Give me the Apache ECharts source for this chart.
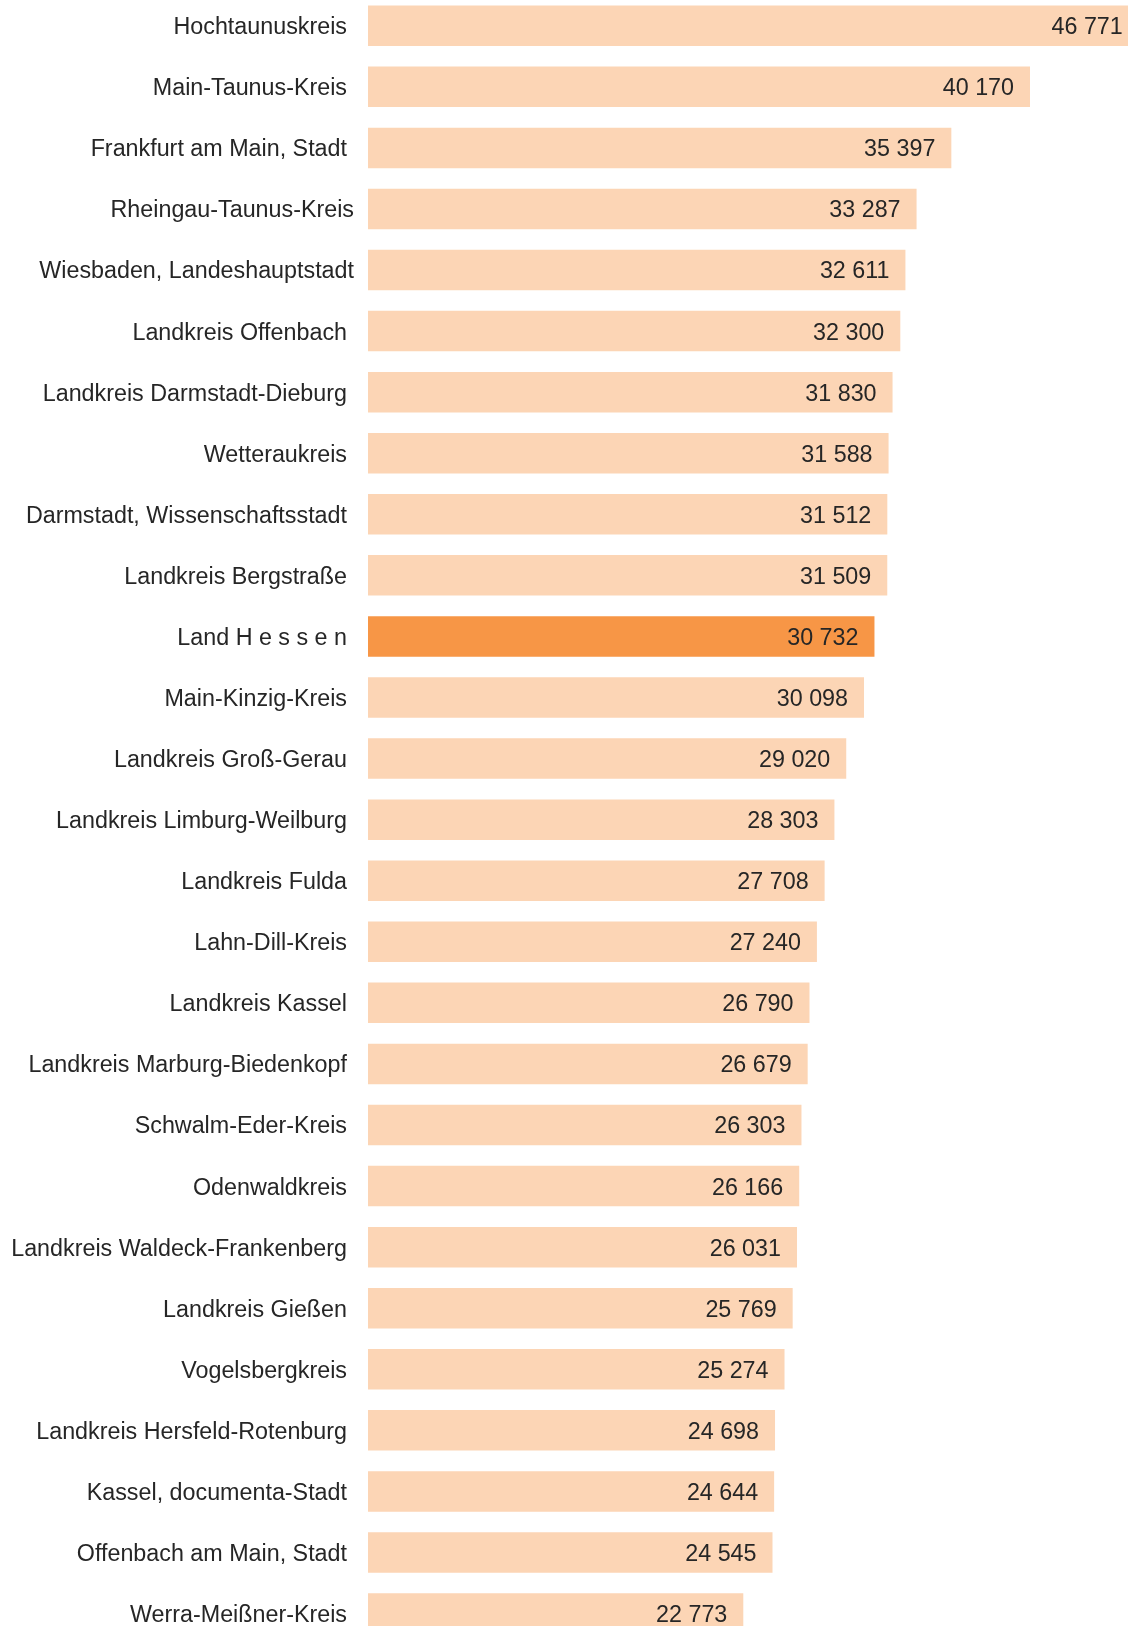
<!DOCTYPE html>
<html>
<head>
<meta charset="utf-8">
<script src="https://cdn.jsdelivr.net/npm/echarts@6/dist/echarts.min.js"></script>
<style>html,body{margin:0;padding:0;background:#fff;overflow:hidden;width:1128px;height:1626px;position:relative}#c{position:absolute;left:0;top:-5px;width:1200px;height:1660px}</style>
</head>
<body>
<div id="c"></div>
<script>
const categories = [
  "Hochtaunuskreis","Main-Taunus-Kreis","Frankfurt am Main, Stadt","Rheingau-Taunus-Kreis",
  "Wiesbaden, Landeshauptstadt","Landkreis Offenbach","Landkreis Darmstadt-Dieburg","Wetteraukreis",
  "Darmstadt, Wissenschaftsstadt","Landkreis Bergstraße","Land H e s s e n","Main-Kinzig-Kreis",
  "Landkreis Groß-Gerau","Landkreis Limburg-Weilburg","Landkreis Fulda","Lahn-Dill-Kreis",
  "Landkreis Kassel","Landkreis Marburg-Biedenkopf","Schwalm-Eder-Kreis","Odenwaldkreis",
  "Landkreis Waldeck-Frankenberg","Landkreis Gießen","Vogelsbergkreis","Landkreis Hersfeld-Rotenburg",
  "Kassel, documenta-Stadt","Offenbach am Main, Stadt","Werra-Meißner-Kreis"
];
const values = [
  46771,40170,35397,33287,32611,32300,31830,31588,31512,31509,30732,30098,29020,28303,27708,
  27240,26790,26679,26303,26166,26031,25769,25274,24698,24644,24545,22773
];
const highlight = "Land H e s s e n";
const shiftedLabels = ["Rheingau-Taunus-Kreis","Wiesbaden, Landeshauptstadt"];

const chart = echarts.init(document.getElementById('c'));
const fmt = v => String(v).replace(/\B(?=(\d{3})+(?!\d))/g, ' ');
const FONT = 'Liberation Sans, Arial, sans-serif';
chart.setOption({
  animation: false,
  grid: { left: 368, right: 8, top: 0.2, bottom: 10.9, containLabel: false },
  xAxis: { type: 'value', min: 0, max: 50000, show: false },
  yAxis: {
    type: 'category', inverse: true, data: categories,
    axisLine: { show: false }, axisTick: { show: false }, splitLine: { show: false },
    axisLabel: {
      margin: 14,
      formatter: v => shiftedLabels.includes(v) ? '{b|' + v + '}' : '{a|' + v + '}',
      rich: {
        a: { fontFamily: FONT, fontSize: 23.3, color: '#262626', padding: [4, 7, 0, 0] },
        b: { fontFamily: FONT, fontSize: 23.3, color: '#262626', padding: [4, 0, 0, 0] }
      }
    }
  },
  series: [{
    type: 'bar',
    barWidth: 40.5,
    data: values.map((v, i) => ({
      value: v,
      itemStyle: { color: categories[i] === highlight ? '#F79646' : '#FCD5B5' }
    })),
    label: {
      show: true, position: 'insideRight', distance: 16, offset: [0, 2],
      fontFamily: FONT, fontSize: 23.3, color: '#262626',
      formatter: p => fmt(p.value)
    }
  }]
});
</script>
</body>
</html>
